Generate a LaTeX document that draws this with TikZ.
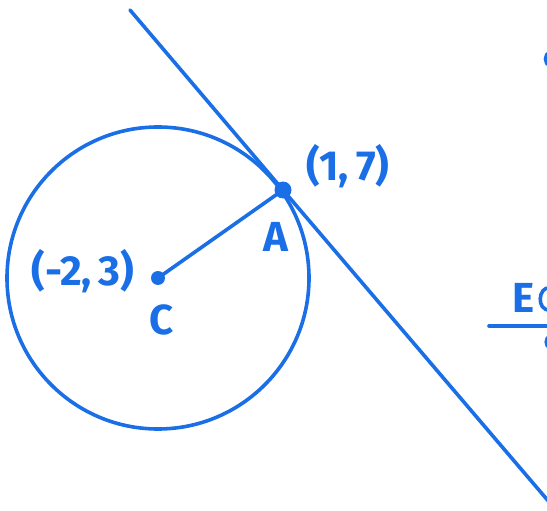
\documentclass[tikz,border=0pt]{standalone}
\usepackage{fontspec}
\setmainfont{Fira Sans}
\usepackage{tikz}
\usetikzlibrary{calc}
\definecolor{penblue}{HTML}{1A6FE6}
\tikzset{
  penLine/.style={draw=penblue, line width=3.6pt, line cap=round},
  penDot/.style={circle, fill=penblue, inner sep=0pt},
  penLabel/.style={text=penblue, font=\fontsize{42}{42}\selectfont\bfseries, inner sep=0pt}
}

\begin{document}
\begin{tikzpicture}[x=1pt, y=-1pt]
  \useasboundingbox (0,0) rectangle (547,511);
  \clip (0,0) rectangle (547,511);

  \coordinate (C) at (158,278);
  \coordinate (A) at (283,190);
  \coordinate (T1) at (130,10);
  \coordinate (T2) at (550,503);

  \draw[penLine] (C) circle[radius=151];
  \draw[penLine] (T1) -- (A) -- (T2);
  \draw[penLine] (C) -- (A);

  \node[penDot, minimum size=17pt] (dotA) at (A) {};
  \node[penDot, minimum size=14pt] (dotC) at (C) {};

  \node[penLabel] (labA) at (276,237) {A};
  \node[penLabel] (labC) at (162,320) {C};
  \node[penLabel] (ptA) at (348,166) {(1,\,7)};
  \node[penLabel] (ptC) at (83,271) {(-2,\,3)};

  % pieces of writing cut by the right edge
  \node[penLabel, anchor=west] (eqn) at (512,298) {E};
  \draw[penLine] (550,288) .. controls (538,286) and (536,311) .. (550,310);
  \draw[penLine] (489,326) -- (560,326);
  \draw[penLine] (550,52) .. controls (544,54) and (544,64) .. (550,66);
  \draw[penLine] (550,336) .. controls (545,338) and (545,346) .. (550,348);
\end{tikzpicture}
\end{document}
